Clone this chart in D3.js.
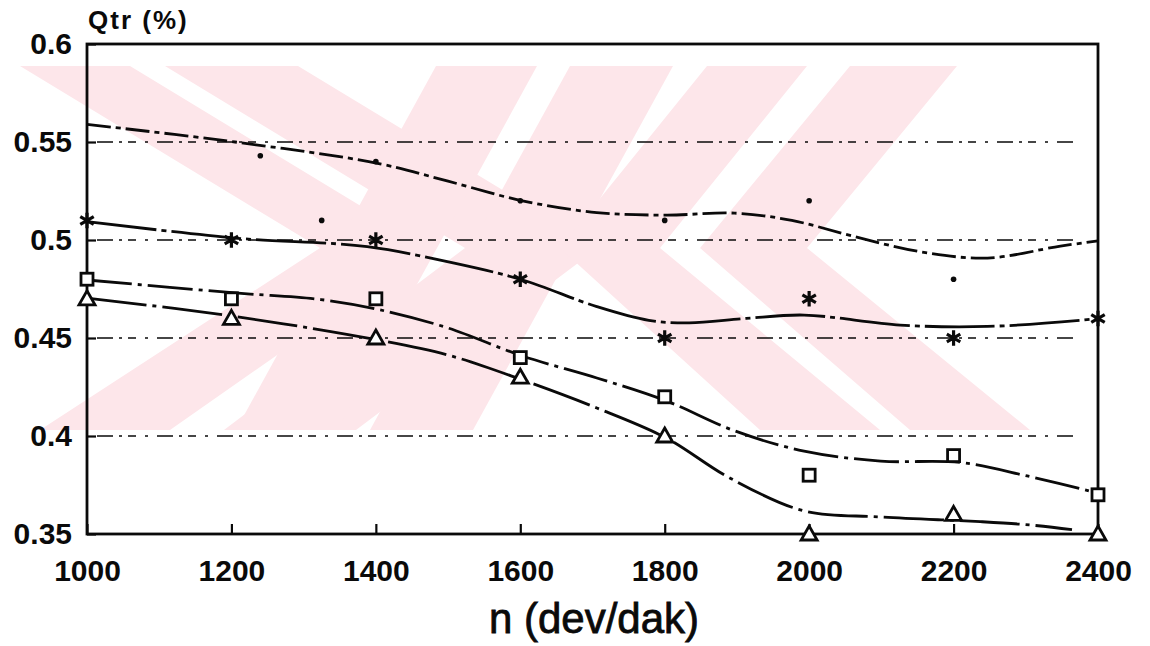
<!DOCTYPE html>
<html lang="en">
<head>
<meta charset="UTF-8">
<title>Qtr - n</title>
<style>
  body { margin: 0; background: #fff; }
  text { font-family: "Liberation Sans", Arial, sans-serif; }
</style>
</head>
<body>
<script src="https://d3js.org/d3.v7.min.js"></script>
<script>
// tick values
var xTicks = [1000, 1200, 1400, 1600, 1800, 2000, 2200, 2400];
var yTicks = [0.35, 0.4, 0.45, 0.5, 0.55, 0.6];
var gridVals = [0.4, 0.45, 0.5, 0.55];

// measured points (n, Qtr)
var dotPts  = [[1240, 0.543], [1325, 0.51], [1400, 0.54], [1600, 0.52], [1800, 0.51], [2000, 0.52], [2200, 0.48]];
var starPts = [[1000, 0.51], [1200, 0.50], [1400, 0.50], [1600, 0.48], [1800, 0.45], [2000, 0.47], [2200, 0.45], [2400, 0.46]];
var sqPts   = [[1000, 0.48], [1200, 0.47], [1400, 0.47], [1600, 0.44], [1800, 0.42], [2000, 0.38], [2200, 0.39], [2400, 0.37]];
var triPts  = [[1000, 0.47], [1200, 0.46], [1400, 0.45], [1600, 0.43], [1800, 0.40], [2000, 0.35], [2200, 0.36], [2400, 0.35]];

// fitted curves
var dotCurve  = [[1000, 0.559], [1205, 0.550], [1404, 0.539], [1500, 0.530], [1603, 0.520], [1706, 0.514], [1802, 0.5127], [1897, 0.5137], [1976, 0.510], [2060, 0.502], [2154, 0.494], [2247, 0.4908], [2348, 0.4969], [2400, 0.4995]];
var starCurve = [[1000, 0.5094], [1205, 0.501], [1388, 0.4966], [1507, 0.4883], [1603, 0.4796], [1706, 0.466], [1778, 0.459], [1834, 0.4577], [1913, 0.460], [1993, 0.4617], [2126, 0.4566], [2247, 0.4559], [2375, 0.459], [2400, 0.460]];
var sqCurve   = [[1000, 0.4796], [1205, 0.473], [1324, 0.4696], [1404, 0.4645], [1500, 0.4551], [1603, 0.4408], [1706, 0.4296], [1802, 0.4179], [1897, 0.4026], [1993, 0.3923], [2099, 0.3872], [2209, 0.3865], [2302, 0.3796], [2393, 0.3714], [2400, 0.3705]];
var triCurve  = [[1000, 0.4704], [1205, 0.461], [1404, 0.4489], [1500, 0.4413], [1603, 0.4286], [1706, 0.4143], [1802, 0.399], [1890, 0.3786], [1992, 0.3619], [2098, 0.3587], [2237, 0.3563], [2306, 0.3546], [2364, 0.3522]];

var W = 1150, H = 646;
var plotL = 87, plotR = 1098, plotT = 44, plotB = 534;
var ink = "#0a0a0a";

var svg = d3.select("body").append("svg")
    .attr("width", W)
    .attr("height", H);

// watermark (pink bands behind the plot)
var wm = svg.append("g").attr("fill", "#fde6ea");
var wy0 = 66, wym = 248, wy1 = 430;
// band: top edge [t0,t1], middle edge [m0,m1], bottom edge [b0,b1]
function band(t0, t1, m0, m1, b0, b1) {
    return [[t0, wy0], [t1, wy0], [m1, wym], [b1, wy1], [b0, wy1], [m0, wym]];
}
var shapes = [
    band(20, 130, 320, 430, 40, 170),
    band(165, 298, 465, 598, 224, 356),
    band(436, 537, 336, 437, 236, 337),
    band(570, 673, 470, 573, 370, 473),
    band(707, 807, 560, 660, 760, 880),
    band(850, 957, 700, 807, 910, 1030)
];
wm.selectAll("polygon")
    .data(shapes)
    .enter()
    .append("polygon")
    .attr("points", function(d) { return d.map(function(p) { return p.join(","); }).join(" "); });

var x = d3.scaleLinear().domain([1000, 2400]).range([plotL, plotR]);
var y = d3.scaleLinear().domain([0.35, 0.6]).range([plotB, plotT]);

// dash-dot grid lines
svg.append("g")
    .selectAll("line")
    .data(gridVals)
    .enter()
    .append("line")
    .attr("x1", plotL + 10)
    .attr("x2", plotR - 22)
    .attr("y1", function(d) { return y(d); })
    .attr("y2", function(d) { return y(d); })
    .attr("stroke", ink)
    .attr("stroke-width", 1.6)
    .attr("stroke-dasharray", "16,6,3,6,8,9,3,9");

// axes
var fmt = function(d) { return String(+d.toFixed(2)); };
var yAxis = svg.append("g")
    .attr("transform", "translate(" + plotL + ",0)")
    .call(d3.axisLeft(y).tickValues(yTicks).tickFormat(fmt).tickSizeInner(-9).tickSizeOuter(0).tickPadding(15));
var xAxis = svg.append("g")
    .attr("transform", "translate(0," + plotB + ")")
    .call(d3.axisBottom(x).tickValues(xTicks).tickFormat(d3.format("d")).tickSizeInner(-10).tickSizeOuter(0).tickPadding(26));

[yAxis, xAxis].forEach(function(g) {
    g.select(".domain").remove();
    g.selectAll(".tick line").attr("stroke", ink).attr("stroke-width", 2.2);
    g.selectAll(".tick text")
        .attr("fill", ink)
        .style("font-size", "30px")
        .style("font-weight", "bold")
        .style("font-family", "'Liberation Sans', Arial, sans-serif");
});

// frame
svg.append("rect")
    .attr("x", plotL).attr("y", plotT)
    .attr("width", plotR - plotL).attr("height", plotB - plotT)
    .attr("fill", "none")
    .attr("stroke", ink)
    .attr("stroke-width", 2.8);

// curves
var line = d3.line()
    .x(function(d) { return x(d[0]); })
    .y(function(d) { return y(d[1]); })
    .curve(d3.curveCatmullRom.alpha(0.5));

var curves = [dotCurve, starCurve, sqCurve, triCurve];
var dashes = ["24,5,5,5", "70,5,5,5", "45,6,4,6", "60,6,4,6"];
svg.append("g")
    .selectAll("path")
    .data(curves)
    .enter()
    .append("path")
    .attr("d", line)
    .attr("fill", "none")
    .attr("stroke", ink)
    .attr("stroke-width", 2.8)
    .attr("stroke-dasharray", function(d, i) { return dashes[i]; });

// markers
var mk = svg.append("g").attr("stroke", ink).attr("fill", "none");

mk.selectAll(".dot")
    .data(dotPts)
    .enter()
    .append("circle")
    .attr("class", "dot")
    .attr("cx", function(d) { return x(d[0]); })
    .attr("cy", function(d) { return y(d[1]); })
    .attr("r", 2.8)
    .attr("fill", ink)
    .attr("stroke", "none");

mk.selectAll(".star")
    .data(starPts)
    .enter()
    .append("path")
    .attr("class", "star")
    .attr("d", d3.symbol().type(d3.symbolAsterisk).size(170))
    .attr("transform", function(d) { return "translate(" + x(d[0]) + "," + y(d[1]) + ")"; })
    .attr("stroke-width", 3.2);

mk.selectAll(".sq")
    .data(sqPts)
    .enter()
    .append("rect")
    .attr("class", "sq")
    .attr("x", function(d) { return x(d[0]) - 6; })
    .attr("y", function(d) { return y(d[1]) - 6; })
    .attr("width", 12)
    .attr("height", 12)
    .attr("fill", "#fff")
    .attr("stroke-width", 2.8);

mk.selectAll(".tri")
    .data(triPts)
    .enter()
    .append("path")
    .attr("class", "tri")
    .attr("d", "M0,-8L8,6L-8,6Z")
    .attr("transform", function(d) { return "translate(" + x(d[0]) + "," + y(d[1]) + ")"; })
    .attr("fill", "#fff")
    .attr("stroke-width", 2.8);

// titles
svg.append("text")
    .attr("x", plotL + 1)
    .attr("y", 29)
    .attr("fill", ink)
    .style("font-size", "26px")
    .style("font-weight", "bold")
    .style("letter-spacing", "2px")
    .text("Qtr (%)");

svg.append("text")
    .attr("x", 594)
    .attr("y", 633)
    .attr("text-anchor", "middle")
    .attr("fill", ink)
    .attr("stroke", ink)
    .attr("stroke-width", 0.8)
    .style("font-size", "42px")
    .text("n (dev/dak)");
</script>
</body>
</html>
